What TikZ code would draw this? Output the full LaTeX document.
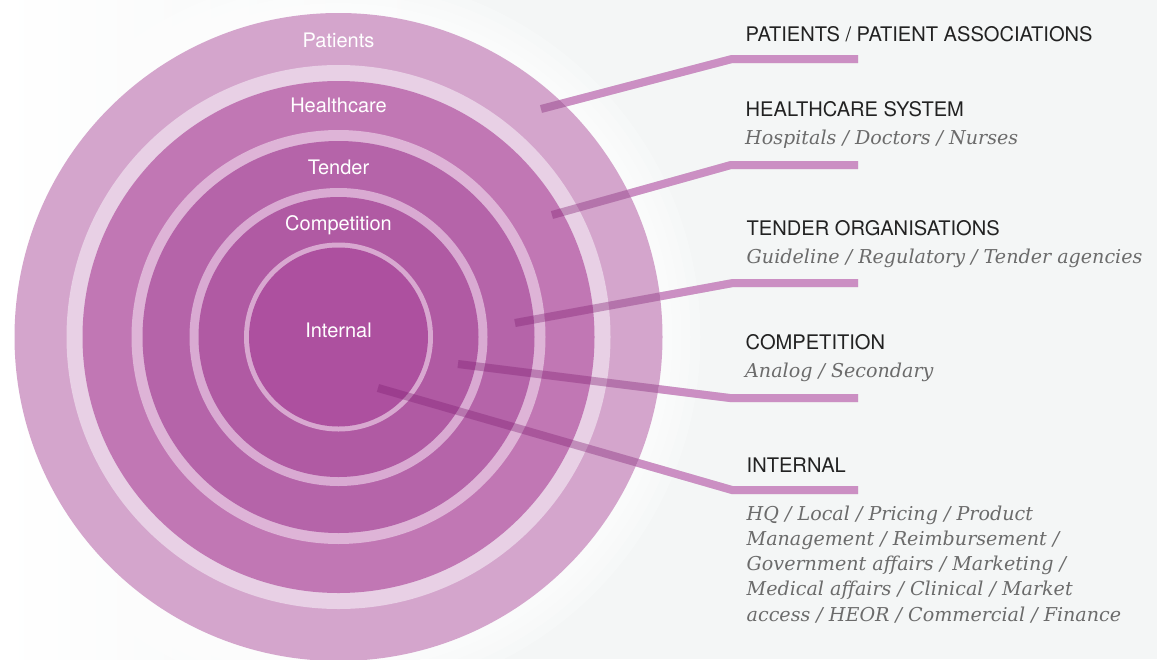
\documentclass[tikz,border=0pt]{standalone}
\usepackage{fontspec}
\setmainfont{TeX Gyre Heros}
\newfontfamily\notefont{DejaVu Serif}
\usetikzlibrary{calc}

\definecolor{bgc}{HTML}{F4F6F6}
\definecolor{bandP}{HTML}{D4A5CC}
\definecolor{ringA}{HTML}{E8D0E5}
\definecolor{bandH}{HTML}{C177B4}
\definecolor{ringB}{HTML}{DEB4D7}
\definecolor{bandT}{HTML}{B564A9}
\definecolor{ringC}{HTML}{D9AAD2}
\definecolor{bandC}{HTML}{B05AA3}
\definecolor{ringD}{HTML}{D8A8D0}
\definecolor{bandI}{HTML}{AD509F}
\definecolor{linkpink}{HTML}{CB8FC3}
\definecolor{linkdark}{HTML}{A02890}
\definecolor{headc}{HTML}{222222}
\definecolor{notec}{HTML}{6B6B6B}

\tikzset{
  ringlabel/.style={anchor=base, inner sep=0pt, text=white,
    font=\fontsize{20}{24}\selectfont},
  headtext/.style={anchor=base west, inner sep=0pt, text=headc,
    font=\fontsize{20.1}{24}\selectfont},
  notetext/.style={anchor=base west, inner sep=0pt, text=notec, align=left,
    font=\notefont\itshape\fontsize{19.1}{25.3}\selectfont},
  linkshadow/.style={draw=black, opacity=0.1, line width=8pt, line cap=butt, line join=miter},
  linkout/.style={draw=linkpink, line width=8pt, line cap=butt, line join=miter},
  linkin/.style={draw=linkdark, opacity=0.3, line width=8pt, line cap=butt, line join=miter},
}

\begin{document}
\begin{tikzpicture}[x=1pt,y=-1pt]
\useasboundingbox (0,0) rectangle (1157,659);

% page background: white on the far left easing into light grey
\fill[bgc] (0,0) rectangle (1157,659);
\shade[left color=white, right color=bgc] (0,0) rectangle (420,659);

\coordinate (c) at (338.5,337);

% soft white glow around the target
\foreach \r in {362,352,343,334}
  \fill[white, opacity=0.25] (c) circle[radius=\r pt];

% concentric bands, outermost first
\fill[bandP] (c) circle[radius=324pt];
\fill[ringA] (c) circle[radius=272pt];
\fill[bandH] (c) circle[radius=256pt];
\fill[ringB] (c) circle[radius=207pt];
\fill[bandT] (c) circle[radius=196pt];
\fill[ringC] (c) circle[radius=149pt];
\fill[bandC] (c) circle[radius=140pt];
\fill[ringD] (c) circle[radius=94.5pt];
\fill[bandI] (c) circle[radius=89.5pt];

% band labels
\node[ringlabel] (lp) at (338.5,47) {Patients};
\node[ringlabel] (lh) at (338.5,112) {Healthcare};
\node[ringlabel] (lt) at (338.5,174) {Tender};
\node[ringlabel] (lc) at (338.5,230) {Competition};
\node[ringlabel] (li) at (338.5,337) {Internal};

% leader line end points
\coordinate (s1) at (541,109); \coordinate (k1) at (732,59);  \coordinate (t1) at (858,59);
\coordinate (s2) at (552,215); \coordinate (k2) at (731,165); \coordinate (t2) at (858,165);
\coordinate (s3) at (515,323); \coordinate (k3) at (733,283); \coordinate (t3) at (858,283);
\coordinate (s4) at (458,364); \coordinate (k4) at (730,398); \coordinate (t4) at (858,398);
\coordinate (s5) at (378,388); \coordinate (k5) at (732,490); \coordinate (t5) at (858,490);

% drop shadows of the leader lines
\begin{scope}[shift={(0.6,1.6)}]
  \foreach \i in {1,...,5}
    \draw[linkshadow] (s\i) -- (k\i) -- (t\i);
\end{scope}

% leader lines outside the target
\begin{scope}[even odd rule]
  \clip (-5,-5) rectangle (1165,665) (c) circle[radius=324pt];
  \foreach \i in {1,...,5}
    \draw[linkout] (s\i) -- (k\i) -- (t\i);
\end{scope}

% leader lines where they cross the target: a darker tint
\begin{scope}
  \clip (c) circle[radius=324pt];
  \foreach \i in {1,...,5}
    \draw[linkin] (s\i) -- (k\i) -- (t\i);
\end{scope}

% descriptions
\node[headtext] (hp) at (745.5,41.7) {PATIENTS / PATIENT ASSOCIATIONS};

\node[headtext] (hh) at (745.5,116.7) {HEALTHCARE SYSTEM};
\node[notetext] (nh) at (745,144) {Hospitals / Doctors / Nurses};

\node[headtext] (ht) at (746.5,235) {TENDER ORGANISATIONS};
\node[notetext] (nt) at (746.5,263.3) {Guideline / Regulatory / Tender agencies};

\node[headtext] (hc) at (745.5,349) {COMPETITION};
\node[notetext] (nc) at (745,377.3) {Analog / Secondary};

\node[headtext] (hi) at (746.5,472.7) {INTERNAL};
% the base anchor of a multi-line node sits on its last line
\node[notetext] (ni) at (746.5,621.2) {HQ / Local / Pricing / Product\\
  Management / Reimbursement /\\
  Government affairs / Marketing /\\
  Medical affairs / Clinical / Market\\
  access / HEOR / Commercial / Finance};
\end{tikzpicture}
\end{document}
